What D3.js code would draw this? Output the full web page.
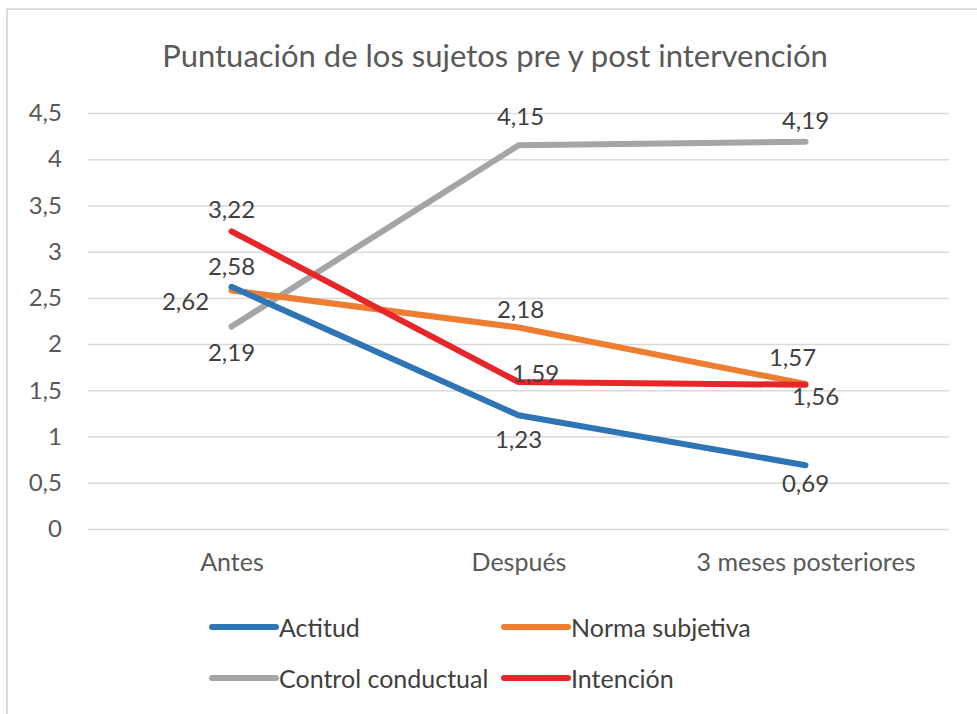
<!DOCTYPE html>
<html>
<head>
<meta charset="utf-8">
<script src="https://cdn.jsdelivr.net/npm/d3@7"></script>
<style>
  body { margin: 0; background: #fff; }
  #chart { width: 977px; height: 714px; }
  text { font-family: Lato, "Open Sans", sans-serif; fill: #404040; }
</style>
</head>
<body>
<div id="chart"></div>
<script>
//Datos
const categorias = ['Antes', 'Después', '3 meses posteriores'];
const series = ['Actitud', 'Norma subjetiva', 'Control conductual', 'Intención'];
const actitud = [2.62, 1.23, 0.69];
const normaSubjetiva = [2.58, 2.18, 1.57];
const controlConductual = [2.19, 4.15, 4.19];
const intencion = [3.22, 1.59, 1.56];
const ticksY = [0, 0.5, 1, 1.5, 2, 2.5, 3, 3.5, 4, 4.5];

//Colores fijos
const COLOR_AZUL = '#2E75B6',
COLOR_NARANJA = '#ED7D31',
COLOR_GRIS = '#A5A5A5',
COLOR_ROJO = '#E8262A';

//Posición del centro de las etiquetas (dx, dy respecto al punto)
const etiquetas = [
    [[-46, 14], [0, 23], [0, 17]],
    [[0, -25], [2, -19], [-13, -27]],
    [[0, 25], [2, -30], [0, -22]],
    [[0, -23], [17, -10], [10, 11]]
];

let margin = {top: 113, right: 28, bottom: 185, left: 88},
    width = 977 - margin.left - margin.right,
    height = 714 - margin.top - margin.bottom;

let svg = d3.select('#chart')
    .append('svg')
      .attr('width', 977)
      .attr('height', 714);

//Borde del gráfico
svg.append('rect')
    .attr('x', 7).attr('y', 9)
    .attr('width', 990).attr('height', 720)
    .attr('fill', 'none')
    .attr('stroke', '#D0D0D0')
    .attr('stroke-width', 1.5);

//Título
svg.append('text')
    .attr('x', 495).attr('y', 55)
    .attr('text-anchor', 'middle')
    .attr('dominant-baseline', 'central')
    .style('font-size', '31px')
    .style('fill', '#595959')
    .text('Puntuación de los sujetos pre y post intervención');

let g = svg.append('g')
    .attr('transform', 'translate(' + margin.left + ',' + margin.top + ')');

//Escalas
let x = d3.scalePoint()
    .domain(categorias)
    .range([0, width])
    .padding(0.5);

let y = d3.scaleLinear()
    .domain([0, 4.5])
    .range([height, 0]);

let fmt = function(d) { return String(d).replace('.', ','); };

//Eje Y con rejilla
let yAxis = g.append('g')
    .call(d3.axisLeft(y).tickValues(ticksY).tickSize(-width).tickFormat(fmt));
yAxis.select('.domain').remove();
yAxis.selectAll('.tick line').attr('stroke', '#D9D9D9').attr('stroke-width', 1.5);
yAxis.selectAll('.tick text')
    .attr('x', -26)
    .style('font-size', '24px')
    .style('font-family', 'Lato, sans-serif')
    .style('fill', '#595959');

//Eje X
let xAxis = g.append('g')
    .attr('transform', 'translate(0,' + height + ')')
    .call(d3.axisBottom(x).tickSize(0));
xAxis.select('.domain').remove();
xAxis.selectAll('.tick text')
    .attr('y', 24)
    .style('font-size', '25px')
    .style('font-family', 'Lato, sans-serif')
    .style('fill', '#595959');

let color = d3.scaleOrdinal()
    .domain(series)
    .range([COLOR_AZUL, COLOR_NARANJA, COLOR_GRIS, COLOR_ROJO]);

let datos = [actitud, normaSubjetiva, controlConductual, intencion].map(function(vals, i) {
    return { serie: series[i], valores: vals.map(function(v, j) { return { cat: categorias[j], v: v }; }) };
});

let line = d3.line()
    .x(function(d) { return x(d.cat); })
    .y(function(d) { return y(d.v); });

//Orden de dibujo: gris, naranja, azul, rojo
let orden = [2, 1, 0, 3];
orden.forEach(function(i) {
    g.append('path')
        .datum(datos[i].valores)
        .attr('fill', 'none')
        .attr('stroke', color(datos[i].serie))
        .attr('stroke-width', 6)
        .attr('stroke-linecap', 'round')
        .attr('stroke-linejoin', 'round')
        .attr('d', line);
});

//Etiquetas de datos
datos.forEach(function(s, i) {
    g.selectAll('.lbl' + i)
        .data(s.valores)
        .enter()
        .append('text')
        .attr('x', function(d, j) { return x(d.cat) + etiquetas[i][j][0]; })
        .attr('y', function(d, j) { return y(d.v) + etiquetas[i][j][1]; })
        .attr('text-anchor', 'middle')
        .attr('dominant-baseline', 'central')
        .style('font-size', '24px')
        .text(function(d) { return fmt(d.v); });
});

//Leyenda
let leyenda = [
    { serie: series[0], x: 212, y: 627 },
    { serie: series[1], x: 504, y: 627 },
    { serie: series[2], x: 212, y: 678 },
    { serie: series[3], x: 504, y: 678 }
];
leyenda.forEach(function(l) {
    svg.append('line')
        .attr('x1', l.x).attr('x2', l.x + 64)
        .attr('y1', l.y).attr('y2', l.y)
        .attr('stroke', color(l.serie))
        .attr('stroke-width', 6)
        .attr('stroke-linecap', 'round');
    svg.append('text')
        .attr('x', l.x + 67).attr('y', l.y)
        .attr('dominant-baseline', 'central')
        .style('font-size', '25px')
        .text(l.serie);
});
</script>
</body>
</html>
